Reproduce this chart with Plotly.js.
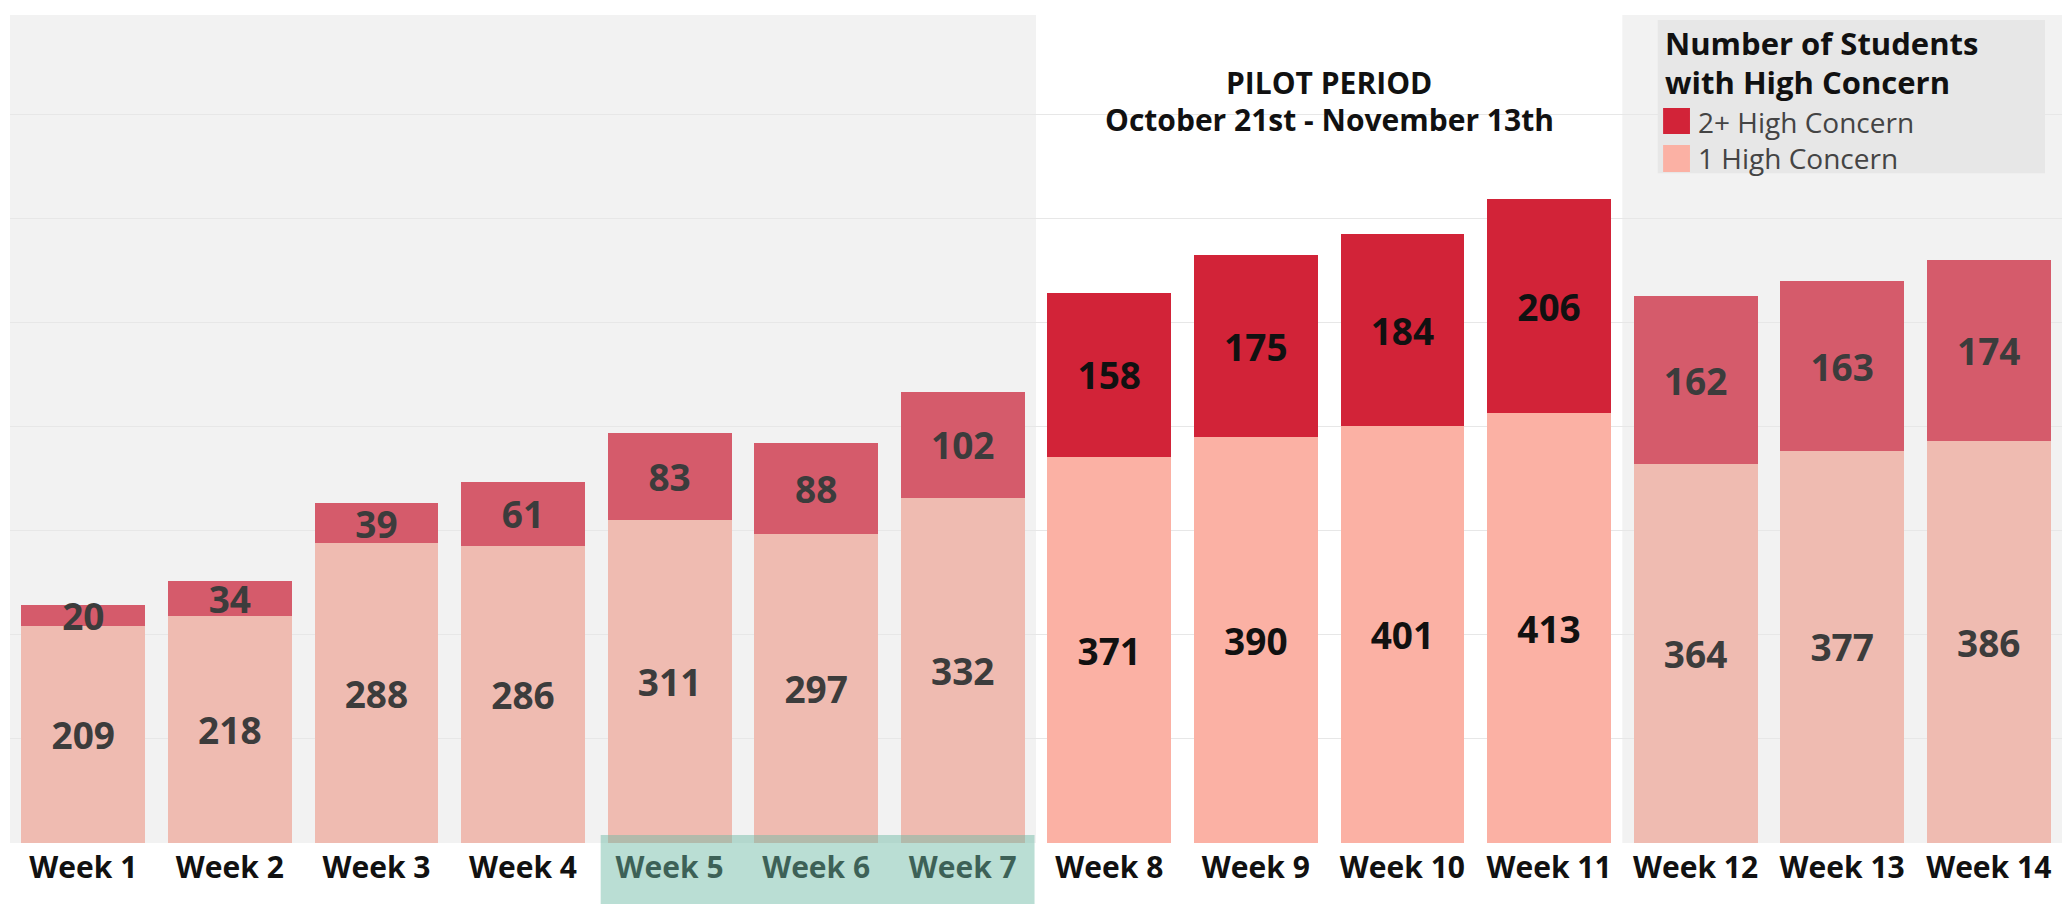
<!DOCTYPE html>
<html>
<head>
<meta charset="utf-8">
<script src="https://cdn.plot.ly/plotly-3.0.1.min.js"></script>
<style>
  html, body { margin: 0; padding: 0; background: #ffffff; }
  #chart { width: 2067px; height: 904px; }
</style>
</head>
<body>
<div id="chart"></div>
<script>
// ---- data ----
const weeks = ['Week 1','Week 2','Week 3','Week 4','Week 5','Week 6','Week 7',
               'Week 8','Week 9','Week 10','Week 11','Week 12','Week 13','Week 14'];
const oneHighConcern = [209, 218, 288, 286, 311, 297, 332, 371, 390, 401, 413, 364, 377, 386];
const twoPlusHighConcern = [20, 34, 39, 61, 83, 88, 102, 158, 175, 184, 206, 162, 163, 174];
const pilotWeeks = ['Week 8', 'Week 9', 'Week 10', 'Week 11'];
const highlightedWeeks = ['Week 5', 'Week 6', 'Week 7'];
const seriesNames = ['1 High Concern', '2+ High Concern'];
const legendTitle = ['Number of Students', 'with High Concern'];
const pilotTitle = ['PILOT PERIOD', 'October 21st - November 13th'];

// ---- styles ----
const FONT = '"Open Sans", "DejaVu Sans", sans-serif';
const isPilot = weeks.map(w => pilotWeeks.includes(w));
const col = {
  oneMuted: '#efbbb1', onePilot: '#fbb1a4',
  twoMuted: '#d55b6b', twoPilot: '#d22338',
  txtMuted: '#3c3c3c', txtPilot: '#111111'
};
const NUM_SIZE = 37;

const traceOne = {
  type: 'bar', x: weeks, y: oneHighConcern, name: seriesNames[0],
  text: oneHighConcern.map(String),
  textposition: 'inside', insidetextanchor: 'middle', textangle: 0,
  textfont: { family: FONT, size: NUM_SIZE, weight: 700, color: isPilot.map(p => p ? col.txtPilot : col.txtMuted) },
  marker: { color: isPilot.map(p => p ? col.onePilot : col.oneMuted), line: { width: 0 } },
  hoverinfo: 'x+y+name', cliponaxis: false
};
const traceTwo = {
  type: 'bar', x: weeks, y: twoPlusHighConcern, name: seriesNames[1],
  text: twoPlusHighConcern.map(String),
  textposition: 'inside', insidetextanchor: 'middle', textangle: 0,
  textfont: { family: FONT, size: NUM_SIZE, weight: 700, color: isPilot.map(p => p ? col.txtPilot : col.txtMuted) },
  marker: { color: isPilot.map(p => p ? col.twoPilot : col.twoMuted), line: { width: 0 } },
  hoverinfo: 'x+y+name', cliponaxis: false
};

const pilotStart = weeks.indexOf(pilotWeeks[0]) - 0.5;
const pilotEnd = weeks.indexOf(pilotWeeks[pilotWeeks.length - 1]) + 0.5;
const hlStart = weeks.indexOf(highlightedWeeks[0]) - 0.47;
const hlEnd = weeks.indexOf(highlightedWeeks[highlightedWeeks.length - 1]) + 0.49;

const layout = {
  width: 2067, height: 904,
  margin: { l: 10, r: 5, t: 15, b: 61, pad: 0 },
  paper_bgcolor: '#ffffff',
  plot_bgcolor: '#f2f2f2',
  barmode: 'stack',
  bargap: 0.155,
  showlegend: false,
  uniformtext: { minsize: NUM_SIZE, mode: 'show' },
  font: { family: FONT, color: '#111111' },
  xaxis: {
    type: 'category', categoryorder: 'array', categoryarray: weeks,
    showgrid: false, zeroline: false, showline: false, ticks: '',
    tickfont: { family: FONT, size: 30, weight: 700, color: '#111111' },
    ticklabelstandoff: 4
  },
  yaxis: {
    range: [0, 796], showticklabels: false, ticks: '',
    showgrid: true, gridcolor: '#e7e7e7', gridwidth: 1,
    dtick: 100, zeroline: false, showline: false
  },
  shapes: [
    { type: 'rect', layer: 'below', xref: 'x', yref: 'paper',
      x0: pilotStart, x1: pilotEnd, y0: 0, y1: 1,
      fillcolor: '#ffffff', line: { width: 0 } },
    { type: 'rect', layer: 'below', xref: 'paper', yref: 'paper',
      x0: 0.803, x1: 0.9917, y0: 0.809, y1: 0.994,
      fillcolor: '#e7e7e7', line: { width: 0 } },
    { type: 'rect', layer: 'above', xref: 'paper', yref: 'paper',
      x0: 0.8056, x1: 0.8187, y0: 0.8563, y1: 0.8877,
      fillcolor: col.twoPilot, line: { width: 0 } },
    { type: 'rect', layer: 'above', xref: 'paper', yref: 'paper',
      x0: 0.8056, x1: 0.8187, y0: 0.8104, y1: 0.843,
      fillcolor: col.onePilot, line: { width: 0 } },
    { type: 'rect', layer: 'above', xref: 'x', yref: 'paper',
      x0: hlStart, x1: hlEnd, y0: -0.08, y1: 0.0097,
      fillcolor: 'rgba(110,185,165,0.48)', line: { width: 0 } }
  ],
  annotations: [
    { xref: 'x', yref: 'paper', x: (pilotStart + pilotEnd) / 2, y: 0.919,
      text: '<b>' + pilotTitle[0] + '</b>', showarrow: false, xanchor: 'center', yanchor: 'middle',
      font: { family: FONT, size: 30, color: '#111111' } },
    { xref: 'x', yref: 'paper', x: (pilotStart + pilotEnd) / 2, y: 0.8732,
      text: '<b>' + pilotTitle[1] + '</b>', showarrow: false, xanchor: 'center', yanchor: 'middle',
      font: { family: FONT, size: 30, color: '#111111' } },
    { xref: 'paper', yref: 'paper', x: 0.8056, y: 0.9662,
      text: '<b>' + legendTitle[0] + '</b>', showarrow: false, xanchor: 'left', yanchor: 'middle',
      font: { family: FONT, size: 31, color: '#111111' } },
    { xref: 'paper', yref: 'paper', x: 0.8056, y: 0.919,
      text: '<b>' + legendTitle[1] + '</b>', showarrow: false, xanchor: 'left', yanchor: 'middle',
      font: { family: FONT, size: 31, color: '#111111' } },
    { xref: 'paper', yref: 'paper', x: 0.8214, y: 0.8708,
      text: seriesNames[1], showarrow: false, xanchor: 'left', yanchor: 'middle',
      font: { family: FONT, size: 28, color: '#444444' } },
    { xref: 'paper', yref: 'paper', x: 0.8214, y: 0.8273,
      text: seriesNames[0], showarrow: false, xanchor: 'left', yanchor: 'middle',
      font: { family: FONT, size: 28, color: '#444444' } }
  ]
};

Plotly.newPlot('chart', [traceOne, traceTwo], layout, { displayModeBar: false, staticPlot: true });
</script>
</body>
</html>
